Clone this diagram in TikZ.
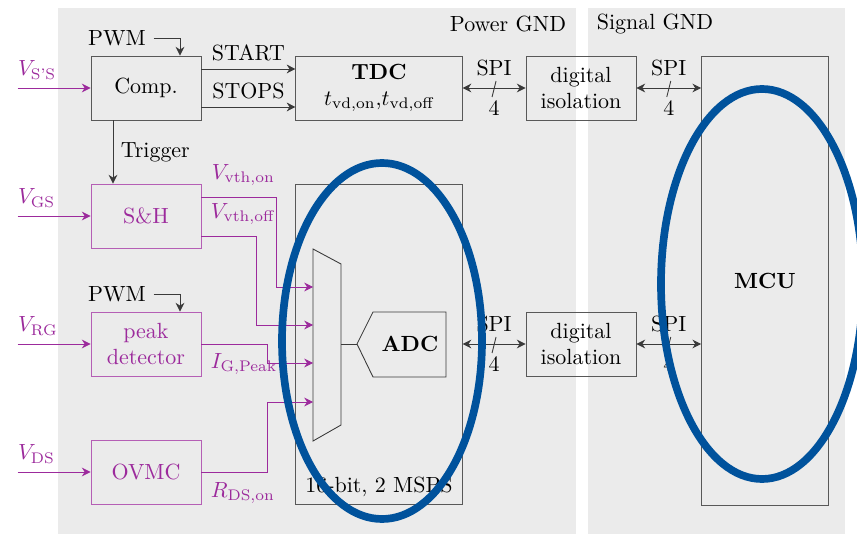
\documentclass[tikz,border=0pt]{standalone}
\usepackage{amsmath}
\usetikzlibrary{arrows.meta, positioning, calc}
\definecolor{gndgray}{HTML}{EBEBEB}
\definecolor{sigpurple}{HTML}{9C2A9C}
\definecolor{ringblue}{HTML}{00529C}
\definecolor{linedark}{HTML}{3A3A3A}

\begin{document}
\begin{tikzpicture}[
  x=0.016cm, y=-0.016cm,
  block/.style={
    rectangle, draw=linedark!85,
    minimum width=1.76cm, minimum height=1.024cm,
    align=center, inner sep=2pt
  },
  sigblock/.style={block, draw=sigpurple!75, text=sigpurple},
  ctl/.style={linedark, -{Stealth[length=4pt,width=4pt]}},
  sig/.style={sigpurple, -{Stealth[length=4pt,width=4pt]}},
  bus/.style={linedark, {Stealth[length=4pt,width=4pt]}-{Stealth[length=4pt,width=4pt]}},
  ring/.style={draw=ringblue, line width=3.5pt},
  lbl/.style={text=black}
]
  \useasboundingbox (0,0) rectangle (857,534);

  % Ground domains
  \fill[gndgray] (58,8) rectangle (576,534);
  \fill[gndgray] (588,8) rectangle (845,534);
  \node (pgnd) at (508,24) {Power GND};
  \node (sgnd) at (655,24) {Signal GND};

  % Front end
  \node[block] (comp) at (146,88) {Comp.};
  \node[sigblock] (sh) at (146,216) {S\&H};
  \node[sigblock] (peak) at (146,344) {peak\\detector};
  \node[sigblock] (ovmc) at (146,472) {OVMC};

  \node (pwm1) at (117,38) {PWM};
  \node (pwm2) at (117,294) {PWM};
  \draw[ctl] (pwm1.east) -| ($(comp.north)+(34,0)$);
  \draw[ctl] (pwm2.east) -| ($(peak.north)+(34,0)$);

  \foreach \nm/\sub in {comp/{S'S}, sh/GS, peak/RG, ovmc/DS} {
    \coordinate (in-\nm) at ($(\nm.west)+(-73,0)$);
    \draw[sig] (in-\nm) -- (\nm.west);
    \node[sigpurple, anchor=south west, inner sep=0pt] (v-\nm)
      at ($(in-\nm)+(0,-8)$) {$V_{\text{\sub}}$};
  }

  % TDC
  \node[block, minimum width=2.66cm] (tdc) at (379,88)
    {\textbf{TDC}\\$t_{\text{vd,on}}$,$t_{\text{vd,off}}$};
  \draw[ctl] ($(comp.east)+(0,-19)$) -- node[above, lbl] (lstart) {START} ($(tdc.west)+(0,-19)$);
  \draw[ctl] ($(comp.east)+(0,19)$) -- node[above, lbl] (lstops) {STOPS} ($(tdc.west)+(0,19)$);
  \draw[ctl] ($(comp.south)+(-33,0)$) -- node[right, lbl] (ltrig) {Trigger} ($(sh.north)+(-33,0)$);

  % ADC with input mux
  \node[block, minimum width=2.66cm, minimum height=5.12cm] (adcbox) at (379,344) {};
  \node[anchor=south] (adcres) at (adcbox.south) {16-bit, 2 MSPS};
  \draw[linedark] (313,249) -- (341,264) -- (341,425) -- (313,441) -- cycle;
  \coordinate (mux-out) at (341,344);
  \draw[linedark] (357,344) coordinate (adc-tip) -- (373,312) -- (446,312)
    -- (446,377) -- (373,377) -- cycle;
  \node[font=\bfseries] (adc) at (410,344) {ADC};
  \draw[linedark] (mux-out) -- (adc-tip);

  \foreach \k/\yy in {1/287, 2/325, 3/363, 4/402}
    \coordinate (mux-\k) at (313,\yy);
  \draw[sig] ($(sh.east)+(0,-19)$) -| ($(mux-1)+(-37,0)$) -- (mux-1);
  \draw[sig] ($(sh.east)+(0,20)$) -| ($(mux-2)+(-57,0)$) -- (mux-2);
  \draw[sig] (peak.east) -| ($(mux-3)+(-46,0)$) -- (mux-3);
  \draw[sig] (ovmc.east) -| ($(mux-4)+(-46,0)$) -- (mux-4);

  \node[sigpurple, anchor=south west, inner sep=0pt] (lvon)
    at ($(sh.east)+(10,-30)$) {$V_{\text{vth,on}}$};
  \node[sigpurple, anchor=south west, inner sep=0pt] (lvoff)
    at ($(sh.east)+(9,9)$) {$V_{\text{vth,off}}$};
  \node[sigpurple, anchor=north west, inner sep=0pt] (lipk)
    at ($(peak.east)+(9,9)$) {$I_{\text{G,Peak}}$};
  \node[sigpurple, anchor=north west, inner sep=0pt] (lrds)
    at ($(ovmc.east)+(9,10)$) {$R_{\text{DS,on}}$};

  % Isolation and MCU
  \node[block] (iso1) at (581,88) {digital\\isolation};
  \node[block] (iso2) at (581,344) {digital\\isolation};
  \node[block, minimum width=2.03cm, minimum height=7.18cm] (mcu) at (765,281) {\textbf{MCU}};

  \foreach \from/\to in {tdc/iso1, iso1/mcu, adcbox/iso2, iso2/mcu} {
    \draw[bus] (\from.east) -- node[above=2pt, lbl] (spi-\from) {SPI}
      node[below=2pt, lbl] (w-\from) {4}
      coordinate (m-\from) (\from.east -| \to.west);
    \draw[linedark] ($(m-\from)+(2,-7)$) -- ($(m-\from)+(-2,9)$);
  }

  % Highlight rings
  \draw[ring] (382,341) ellipse [x radius=100, y radius=178];
  \draw[ring] (762,284) ellipse [x radius=101, y radius=195];
\end{tikzpicture}
\end{document}
